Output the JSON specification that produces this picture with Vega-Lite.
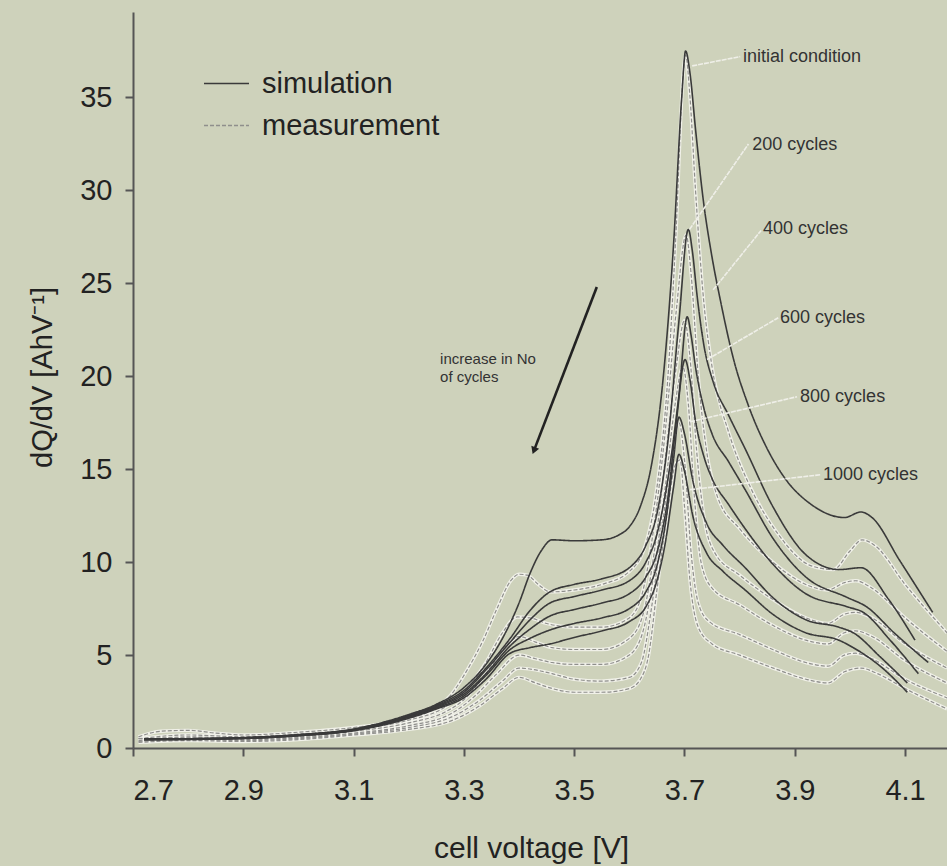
{
  "$schema": "https://vega.github.io/schema/vega-lite/v6.json",
  "width": 814,
  "height": 736,
  "autosize": {"type": "none"},
  "padding": {"left": 133, "top": 12, "right": 0, "bottom": 118},
  "background": "#ced2bb",
  "config": {
    "font": "Liberation Sans",
    "view": {"stroke": null},
    "text": {"font": "Liberation Sans"}
  },
  "datasets": {
    "curves": [
      {"series":"initial","kind":"simulation","voltage":2.72,"dqdv":0.5},
      {"series":"initial","kind":"simulation","voltage":2.8,"dqdv":0.5},
      {"series":"initial","kind":"simulation","voltage":2.9,"dqdv":0.56},
      {"series":"initial","kind":"simulation","voltage":3.0,"dqdv":0.72},
      {"series":"initial","kind":"simulation","voltage":3.1,"dqdv":1.02},
      {"series":"initial","kind":"simulation","voltage":3.2,"dqdv":1.8},
      {"series":"initial","kind":"simulation","voltage":3.25,"dqdv":2.35},
      {"series":"initial","kind":"simulation","voltage":3.3,"dqdv":3.25},
      {"series":"initial","kind":"simulation","voltage":3.34,"dqdv":4.5},
      {"series":"initial","kind":"simulation","voltage":3.37,"dqdv":5.9},
      {"series":"initial","kind":"simulation","voltage":3.4,"dqdv":7.8},
      {"series":"initial","kind":"simulation","voltage":3.42,"dqdv":9.4},
      {"series":"initial","kind":"simulation","voltage":3.44,"dqdv":10.6},
      {"series":"initial","kind":"simulation","voltage":3.46,"dqdv":11.2},
      {"series":"initial","kind":"simulation","voltage":3.5,"dqdv":11.15},
      {"series":"initial","kind":"simulation","voltage":3.55,"dqdv":11.2},
      {"series":"initial","kind":"simulation","voltage":3.58,"dqdv":11.45},
      {"series":"initial","kind":"simulation","voltage":3.6,"dqdv":11.9},
      {"series":"initial","kind":"simulation","voltage":3.62,"dqdv":13.0},
      {"series":"initial","kind":"simulation","voltage":3.64,"dqdv":15.2},
      {"series":"initial","kind":"simulation","voltage":3.66,"dqdv":19.5},
      {"series":"initial","kind":"simulation","voltage":3.68,"dqdv":27},
      {"series":"initial","kind":"simulation","voltage":3.695,"dqdv":35},
      {"series":"initial","kind":"simulation","voltage":3.702,"dqdv":37.5},
      {"series":"initial","kind":"simulation","voltage":3.71,"dqdv":36.3},
      {"series":"initial","kind":"simulation","voltage":3.72,"dqdv":33.3},
      {"series":"initial","kind":"simulation","voltage":3.734,"dqdv":29.5},
      {"series":"initial","kind":"simulation","voltage":3.75,"dqdv":26.4},
      {"series":"initial","kind":"simulation","voltage":3.765,"dqdv":24.1},
      {"series":"initial","kind":"simulation","voltage":3.79,"dqdv":20.8},
      {"series":"initial","kind":"simulation","voltage":3.815,"dqdv":18.5},
      {"series":"initial","kind":"simulation","voltage":3.85,"dqdv":16.1},
      {"series":"initial","kind":"simulation","voltage":3.88,"dqdv":14.6},
      {"series":"initial","kind":"simulation","voltage":3.93,"dqdv":13.1},
      {"series":"initial","kind":"simulation","voltage":3.99,"dqdv":12.4},
      {"series":"initial","kind":"simulation","voltage":4.02,"dqdv":12.7},
      {"series":"initial","kind":"simulation","voltage":4.04,"dqdv":12.4},
      {"series":"initial","kind":"simulation","voltage":4.09,"dqdv":10.1},
      {"series":"initial","kind":"simulation","voltage":4.15,"dqdv":7.3},

      {"series":"c200","kind":"simulation","voltage":2.72,"dqdv":0.48},
      {"series":"c200","kind":"simulation","voltage":2.9,"dqdv":0.55},
      {"series":"c200","kind":"simulation","voltage":3.0,"dqdv":0.7},
      {"series":"c200","kind":"simulation","voltage":3.1,"dqdv":1.0},
      {"series":"c200","kind":"simulation","voltage":3.2,"dqdv":1.75},
      {"series":"c200","kind":"simulation","voltage":3.25,"dqdv":2.3},
      {"series":"c200","kind":"simulation","voltage":3.3,"dqdv":3.1},
      {"series":"c200","kind":"simulation","voltage":3.34,"dqdv":4.3},
      {"series":"c200","kind":"simulation","voltage":3.384,"dqdv":5.9},
      {"series":"c200","kind":"simulation","voltage":3.42,"dqdv":7.4},
      {"series":"c200","kind":"simulation","voltage":3.456,"dqdv":8.4},
      {"series":"c200","kind":"simulation","voltage":3.5,"dqdv":8.8},
      {"series":"c200","kind":"simulation","voltage":3.55,"dqdv":9.1},
      {"series":"c200","kind":"simulation","voltage":3.6,"dqdv":9.7},
      {"series":"c200","kind":"simulation","voltage":3.63,"dqdv":10.9},
      {"series":"c200","kind":"simulation","voltage":3.65,"dqdv":12.6},
      {"series":"c200","kind":"simulation","voltage":3.67,"dqdv":16.5},
      {"series":"c200","kind":"simulation","voltage":3.69,"dqdv":23},
      {"series":"c200","kind":"simulation","voltage":3.707,"dqdv":27.9},
      {"series":"c200","kind":"simulation","voltage":3.714,"dqdv":26.8},
      {"series":"c200","kind":"simulation","voltage":3.723,"dqdv":24.3},
      {"series":"c200","kind":"simulation","voltage":3.735,"dqdv":21.7},
      {"series":"c200","kind":"simulation","voltage":3.752,"dqdv":19.7},
      {"series":"c200","kind":"simulation","voltage":3.78,"dqdv":17.9},
      {"series":"c200","kind":"simulation","voltage":3.81,"dqdv":16.1},
      {"series":"c200","kind":"simulation","voltage":3.86,"dqdv":13.0},
      {"series":"c200","kind":"simulation","voltage":3.92,"dqdv":10.4},
      {"series":"c200","kind":"simulation","voltage":3.98,"dqdv":9.6},
      {"series":"c200","kind":"simulation","voltage":4.02,"dqdv":9.7},
      {"series":"c200","kind":"simulation","voltage":4.07,"dqdv":8.0},
      {"series":"c200","kind":"simulation","voltage":4.118,"dqdv":5.8},

      {"series":"c400","kind":"simulation","voltage":2.72,"dqdv":0.47},
      {"series":"c400","kind":"simulation","voltage":2.9,"dqdv":0.54},
      {"series":"c400","kind":"simulation","voltage":3.0,"dqdv":0.69},
      {"series":"c400","kind":"simulation","voltage":3.1,"dqdv":0.98},
      {"series":"c400","kind":"simulation","voltage":3.2,"dqdv":1.72},
      {"series":"c400","kind":"simulation","voltage":3.25,"dqdv":2.25},
      {"series":"c400","kind":"simulation","voltage":3.3,"dqdv":3.0},
      {"series":"c400","kind":"simulation","voltage":3.34,"dqdv":4.2},
      {"series":"c400","kind":"simulation","voltage":3.384,"dqdv":5.7},
      {"series":"c400","kind":"simulation","voltage":3.42,"dqdv":6.9},
      {"series":"c400","kind":"simulation","voltage":3.456,"dqdv":7.8},
      {"series":"c400","kind":"simulation","voltage":3.5,"dqdv":8.15},
      {"series":"c400","kind":"simulation","voltage":3.55,"dqdv":8.5},
      {"series":"c400","kind":"simulation","voltage":3.6,"dqdv":9.0},
      {"series":"c400","kind":"simulation","voltage":3.63,"dqdv":10.0},
      {"series":"c400","kind":"simulation","voltage":3.65,"dqdv":11.5},
      {"series":"c400","kind":"simulation","voltage":3.67,"dqdv":14.5},
      {"series":"c400","kind":"simulation","voltage":3.69,"dqdv":19},
      {"series":"c400","kind":"simulation","voltage":3.705,"dqdv":23.2},
      {"series":"c400","kind":"simulation","voltage":3.712,"dqdv":22.2},
      {"series":"c400","kind":"simulation","voltage":3.72,"dqdv":20.5},
      {"series":"c400","kind":"simulation","voltage":3.735,"dqdv":18.3},
      {"series":"c400","kind":"simulation","voltage":3.75,"dqdv":16.9},
      {"series":"c400","kind":"simulation","voltage":3.78,"dqdv":15.4},
      {"series":"c400","kind":"simulation","voltage":3.81,"dqdv":13.9},
      {"series":"c400","kind":"simulation","voltage":3.86,"dqdv":11.3},
      {"series":"c400","kind":"simulation","voltage":3.92,"dqdv":9.2},
      {"series":"c400","kind":"simulation","voltage":3.995,"dqdv":8.1},
      {"series":"c400","kind":"simulation","voltage":4.03,"dqdv":7.6},
      {"series":"c400","kind":"simulation","voltage":4.08,"dqdv":6.2},
      {"series":"c400","kind":"simulation","voltage":4.142,"dqdv":4.6},

      {"series":"c600","kind":"simulation","voltage":2.72,"dqdv":0.46},
      {"series":"c600","kind":"simulation","voltage":2.9,"dqdv":0.53},
      {"series":"c600","kind":"simulation","voltage":3.0,"dqdv":0.68},
      {"series":"c600","kind":"simulation","voltage":3.1,"dqdv":0.96},
      {"series":"c600","kind":"simulation","voltage":3.2,"dqdv":1.68},
      {"series":"c600","kind":"simulation","voltage":3.25,"dqdv":2.2},
      {"series":"c600","kind":"simulation","voltage":3.3,"dqdv":2.9},
      {"series":"c600","kind":"simulation","voltage":3.34,"dqdv":4.0},
      {"series":"c600","kind":"simulation","voltage":3.384,"dqdv":5.5},
      {"series":"c600","kind":"simulation","voltage":3.42,"dqdv":6.4},
      {"series":"c600","kind":"simulation","voltage":3.456,"dqdv":7.1},
      {"series":"c600","kind":"simulation","voltage":3.5,"dqdv":7.45},
      {"series":"c600","kind":"simulation","voltage":3.55,"dqdv":7.8},
      {"series":"c600","kind":"simulation","voltage":3.6,"dqdv":8.3},
      {"series":"c600","kind":"simulation","voltage":3.63,"dqdv":9.2},
      {"series":"c600","kind":"simulation","voltage":3.65,"dqdv":10.5},
      {"series":"c600","kind":"simulation","voltage":3.67,"dqdv":13.5},
      {"series":"c600","kind":"simulation","voltage":3.685,"dqdv":17.5},
      {"series":"c600","kind":"simulation","voltage":3.701,"dqdv":20.9},
      {"series":"c600","kind":"simulation","voltage":3.71,"dqdv":19.8},
      {"series":"c600","kind":"simulation","voltage":3.72,"dqdv":17.6},
      {"series":"c600","kind":"simulation","voltage":3.735,"dqdv":15.7},
      {"series":"c600","kind":"simulation","voltage":3.75,"dqdv":14.5},
      {"series":"c600","kind":"simulation","voltage":3.78,"dqdv":13.1},
      {"series":"c600","kind":"simulation","voltage":3.81,"dqdv":11.8},
      {"series":"c600","kind":"simulation","voltage":3.86,"dqdv":9.9},
      {"series":"c600","kind":"simulation","voltage":3.92,"dqdv":8.3},
      {"series":"c600","kind":"simulation","voltage":3.995,"dqdv":7.6},
      {"series":"c600","kind":"simulation","voltage":4.024,"dqdv":7.3},
      {"series":"c600","kind":"simulation","voltage":4.073,"dqdv":5.8},
      {"series":"c600","kind":"simulation","voltage":4.124,"dqdv":4.0},

      {"series":"c800","kind":"simulation","voltage":2.72,"dqdv":0.45},
      {"series":"c800","kind":"simulation","voltage":2.9,"dqdv":0.52},
      {"series":"c800","kind":"simulation","voltage":3.0,"dqdv":0.67},
      {"series":"c800","kind":"simulation","voltage":3.1,"dqdv":0.95},
      {"series":"c800","kind":"simulation","voltage":3.2,"dqdv":1.65},
      {"series":"c800","kind":"simulation","voltage":3.25,"dqdv":2.15},
      {"series":"c800","kind":"simulation","voltage":3.3,"dqdv":2.8},
      {"series":"c800","kind":"simulation","voltage":3.34,"dqdv":3.9},
      {"series":"c800","kind":"simulation","voltage":3.384,"dqdv":5.3},
      {"series":"c800","kind":"simulation","voltage":3.42,"dqdv":5.9},
      {"series":"c800","kind":"simulation","voltage":3.456,"dqdv":6.35},
      {"series":"c800","kind":"simulation","voltage":3.5,"dqdv":6.7},
      {"series":"c800","kind":"simulation","voltage":3.55,"dqdv":7.0},
      {"series":"c800","kind":"simulation","voltage":3.6,"dqdv":7.5},
      {"series":"c800","kind":"simulation","voltage":3.63,"dqdv":8.4},
      {"series":"c800","kind":"simulation","voltage":3.65,"dqdv":9.8},
      {"series":"c800","kind":"simulation","voltage":3.665,"dqdv":12},
      {"series":"c800","kind":"simulation","voltage":3.68,"dqdv":15.5},
      {"series":"c800","kind":"simulation","voltage":3.69,"dqdv":17.8},
      {"series":"c800","kind":"simulation","voltage":3.7,"dqdv":16.9},
      {"series":"c800","kind":"simulation","voltage":3.715,"dqdv":14.4},
      {"series":"c800","kind":"simulation","voltage":3.74,"dqdv":12.1},
      {"series":"c800","kind":"simulation","voltage":3.77,"dqdv":10.9},
      {"series":"c800","kind":"simulation","voltage":3.81,"dqdv":9.7},
      {"series":"c800","kind":"simulation","voltage":3.86,"dqdv":8.1},
      {"series":"c800","kind":"simulation","voltage":3.92,"dqdv":6.9},
      {"series":"c800","kind":"simulation","voltage":3.98,"dqdv":6.5},
      {"series":"c800","kind":"simulation","voltage":4.006,"dqdv":6.2},
      {"series":"c800","kind":"simulation","voltage":4.055,"dqdv":4.9},
      {"series":"c800","kind":"simulation","voltage":4.104,"dqdv":3.5},

      {"series":"c1000","kind":"simulation","voltage":2.72,"dqdv":0.44},
      {"series":"c1000","kind":"simulation","voltage":2.9,"dqdv":0.51},
      {"series":"c1000","kind":"simulation","voltage":3.0,"dqdv":0.66},
      {"series":"c1000","kind":"simulation","voltage":3.1,"dqdv":0.93},
      {"series":"c1000","kind":"simulation","voltage":3.2,"dqdv":1.6},
      {"series":"c1000","kind":"simulation","voltage":3.25,"dqdv":2.1},
      {"series":"c1000","kind":"simulation","voltage":3.3,"dqdv":2.7},
      {"series":"c1000","kind":"simulation","voltage":3.34,"dqdv":3.7},
      {"series":"c1000","kind":"simulation","voltage":3.384,"dqdv":5.1},
      {"series":"c1000","kind":"simulation","voltage":3.42,"dqdv":5.4},
      {"series":"c1000","kind":"simulation","voltage":3.456,"dqdv":5.6},
      {"series":"c1000","kind":"simulation","voltage":3.5,"dqdv":5.95},
      {"series":"c1000","kind":"simulation","voltage":3.55,"dqdv":6.3},
      {"series":"c1000","kind":"simulation","voltage":3.6,"dqdv":6.8},
      {"series":"c1000","kind":"simulation","voltage":3.63,"dqdv":7.6},
      {"series":"c1000","kind":"simulation","voltage":3.65,"dqdv":9.0},
      {"series":"c1000","kind":"simulation","voltage":3.665,"dqdv":11},
      {"series":"c1000","kind":"simulation","voltage":3.68,"dqdv":14},
      {"series":"c1000","kind":"simulation","voltage":3.69,"dqdv":15.8},
      {"series":"c1000","kind":"simulation","voltage":3.7,"dqdv":14.9},
      {"series":"c1000","kind":"simulation","voltage":3.715,"dqdv":12.5},
      {"series":"c1000","kind":"simulation","voltage":3.74,"dqdv":10.5},
      {"series":"c1000","kind":"simulation","voltage":3.77,"dqdv":9.5},
      {"series":"c1000","kind":"simulation","voltage":3.81,"dqdv":8.5},
      {"series":"c1000","kind":"simulation","voltage":3.86,"dqdv":7.2},
      {"series":"c1000","kind":"simulation","voltage":3.92,"dqdv":6.2},
      {"series":"c1000","kind":"simulation","voltage":3.98,"dqdv":5.8},
      {"series":"c1000","kind":"simulation","voltage":4.006,"dqdv":5.4},
      {"series":"c1000","kind":"simulation","voltage":4.055,"dqdv":4.4},
      {"series":"c1000","kind":"simulation","voltage":4.104,"dqdv":3.0},

      {"series":"m-initial","kind":"measurement","voltage":2.71,"dqdv":0.6},
      {"series":"m-initial","kind":"measurement","voltage":2.75,"dqdv":0.9},
      {"series":"m-initial","kind":"measurement","voltage":2.8,"dqdv":0.95},
      {"series":"m-initial","kind":"measurement","voltage":2.85,"dqdv":0.8},
      {"series":"m-initial","kind":"measurement","voltage":2.9,"dqdv":0.7},
      {"series":"m-initial","kind":"measurement","voltage":3.0,"dqdv":0.85},
      {"series":"m-initial","kind":"measurement","voltage":3.1,"dqdv":1.1},
      {"series":"m-initial","kind":"measurement","voltage":3.2,"dqdv":1.6},
      {"series":"m-initial","kind":"measurement","voltage":3.24,"dqdv":2.0},
      {"series":"m-initial","kind":"measurement","voltage":3.275,"dqdv":2.8},
      {"series":"m-initial","kind":"measurement","voltage":3.306,"dqdv":4.2},
      {"series":"m-initial","kind":"measurement","voltage":3.335,"dqdv":5.8},
      {"series":"m-initial","kind":"measurement","voltage":3.36,"dqdv":7.5},
      {"series":"m-initial","kind":"measurement","voltage":3.385,"dqdv":9.0},
      {"series":"m-initial","kind":"measurement","voltage":3.4,"dqdv":9.35},
      {"series":"m-initial","kind":"measurement","voltage":3.415,"dqdv":9.3},
      {"series":"m-initial","kind":"measurement","voltage":3.435,"dqdv":8.8},
      {"series":"m-initial","kind":"measurement","voltage":3.456,"dqdv":8.4},
      {"series":"m-initial","kind":"measurement","voltage":3.5,"dqdv":8.5},
      {"series":"m-initial","kind":"measurement","voltage":3.55,"dqdv":8.8},
      {"series":"m-initial","kind":"measurement","voltage":3.6,"dqdv":9.5},
      {"series":"m-initial","kind":"measurement","voltage":3.63,"dqdv":11},
      {"series":"m-initial","kind":"measurement","voltage":3.65,"dqdv":14},
      {"series":"m-initial","kind":"measurement","voltage":3.67,"dqdv":20},
      {"series":"m-initial","kind":"measurement","voltage":3.685,"dqdv":28},
      {"series":"m-initial","kind":"measurement","voltage":3.697,"dqdv":36},
      {"series":"m-initial","kind":"measurement","voltage":3.702,"dqdv":37.3},
      {"series":"m-initial","kind":"measurement","voltage":3.71,"dqdv":35},
      {"series":"m-initial","kind":"measurement","voltage":3.72,"dqdv":30},
      {"series":"m-initial","kind":"measurement","voltage":3.735,"dqdv":24},
      {"series":"m-initial","kind":"measurement","voltage":3.75,"dqdv":20.5},
      {"series":"m-initial","kind":"measurement","voltage":3.78,"dqdv":17},
      {"series":"m-initial","kind":"measurement","voltage":3.82,"dqdv":14},
      {"series":"m-initial","kind":"measurement","voltage":3.87,"dqdv":11.5},
      {"series":"m-initial","kind":"measurement","voltage":3.93,"dqdv":9.8},
      {"series":"m-initial","kind":"measurement","voltage":3.97,"dqdv":9.6},
      {"series":"m-initial","kind":"measurement","voltage":4.0,"dqdv":10.6},
      {"series":"m-initial","kind":"measurement","voltage":4.022,"dqdv":11.2},
      {"series":"m-initial","kind":"measurement","voltage":4.045,"dqdv":10.9},
      {"series":"m-initial","kind":"measurement","voltage":4.1,"dqdv":8.8},
      {"series":"m-initial","kind":"measurement","voltage":4.176,"dqdv":6.2},

      {"series":"m200","kind":"measurement","voltage":2.71,"dqdv":0.5},
      {"series":"m200","kind":"measurement","voltage":2.8,"dqdv":0.7},
      {"series":"m200","kind":"measurement","voltage":2.9,"dqdv":0.6},
      {"series":"m200","kind":"measurement","voltage":3.0,"dqdv":0.75},
      {"series":"m200","kind":"measurement","voltage":3.1,"dqdv":1.0},
      {"series":"m200","kind":"measurement","voltage":3.2,"dqdv":1.5},
      {"series":"m200","kind":"measurement","voltage":3.26,"dqdv":2.1},
      {"series":"m200","kind":"measurement","voltage":3.3,"dqdv":3.0},
      {"series":"m200","kind":"measurement","voltage":3.34,"dqdv":4.6},
      {"series":"m200","kind":"measurement","voltage":3.37,"dqdv":6.2},
      {"series":"m200","kind":"measurement","voltage":3.397,"dqdv":7.05},
      {"series":"m200","kind":"measurement","voltage":3.42,"dqdv":7.0},
      {"series":"m200","kind":"measurement","voltage":3.45,"dqdv":6.7},
      {"series":"m200","kind":"measurement","voltage":3.5,"dqdv":6.5},
      {"series":"m200","kind":"measurement","voltage":3.55,"dqdv":6.5},
      {"series":"m200","kind":"measurement","voltage":3.6,"dqdv":7.0},
      {"series":"m200","kind":"measurement","voltage":3.625,"dqdv":8.5},
      {"series":"m200","kind":"measurement","voltage":3.645,"dqdv":12},
      {"series":"m200","kind":"measurement","voltage":3.665,"dqdv":17},
      {"series":"m200","kind":"measurement","voltage":3.685,"dqdv":23.5},
      {"series":"m200","kind":"measurement","voltage":3.703,"dqdv":27.6},
      {"series":"m200","kind":"measurement","voltage":3.712,"dqdv":25.5},
      {"series":"m200","kind":"measurement","voltage":3.725,"dqdv":20},
      {"series":"m200","kind":"measurement","voltage":3.74,"dqdv":16},
      {"series":"m200","kind":"measurement","voltage":3.76,"dqdv":13.5},
      {"series":"m200","kind":"measurement","voltage":3.8,"dqdv":11.8},
      {"series":"m200","kind":"measurement","voltage":3.86,"dqdv":10.0},
      {"series":"m200","kind":"measurement","voltage":3.92,"dqdv":8.8},
      {"series":"m200","kind":"measurement","voltage":3.96,"dqdv":8.5},
      {"series":"m200","kind":"measurement","voltage":3.99,"dqdv":8.9},
      {"series":"m200","kind":"measurement","voltage":4.01,"dqdv":9.0},
      {"series":"m200","kind":"measurement","voltage":4.04,"dqdv":8.6},
      {"series":"m200","kind":"measurement","voltage":4.1,"dqdv":7.0},
      {"series":"m200","kind":"measurement","voltage":4.176,"dqdv":5.2},

      {"series":"m400","kind":"measurement","voltage":2.71,"dqdv":0.4},
      {"series":"m400","kind":"measurement","voltage":2.8,"dqdv":0.6},
      {"series":"m400","kind":"measurement","voltage":2.9,"dqdv":0.5},
      {"series":"m400","kind":"measurement","voltage":3.0,"dqdv":0.6},
      {"series":"m400","kind":"measurement","voltage":3.1,"dqdv":0.9},
      {"series":"m400","kind":"measurement","voltage":3.2,"dqdv":1.35},
      {"series":"m400","kind":"measurement","voltage":3.27,"dqdv":2.0},
      {"series":"m400","kind":"measurement","voltage":3.3,"dqdv":2.6},
      {"series":"m400","kind":"measurement","voltage":3.34,"dqdv":4.0},
      {"series":"m400","kind":"measurement","voltage":3.38,"dqdv":5.6},
      {"series":"m400","kind":"measurement","voltage":3.4,"dqdv":6.0},
      {"series":"m400","kind":"measurement","voltage":3.43,"dqdv":5.7},
      {"series":"m400","kind":"measurement","voltage":3.46,"dqdv":5.4},
      {"series":"m400","kind":"measurement","voltage":3.5,"dqdv":5.3},
      {"series":"m400","kind":"measurement","voltage":3.55,"dqdv":5.3},
      {"series":"m400","kind":"measurement","voltage":3.6,"dqdv":5.9},
      {"series":"m400","kind":"measurement","voltage":3.625,"dqdv":7.2},
      {"series":"m400","kind":"measurement","voltage":3.645,"dqdv":10.5},
      {"series":"m400","kind":"measurement","voltage":3.665,"dqdv":15.5},
      {"series":"m400","kind":"measurement","voltage":3.685,"dqdv":20.5},
      {"series":"m400","kind":"measurement","voltage":3.7,"dqdv":23.0},
      {"series":"m400","kind":"measurement","voltage":3.71,"dqdv":21},
      {"series":"m400","kind":"measurement","voltage":3.722,"dqdv":16},
      {"series":"m400","kind":"measurement","voltage":3.735,"dqdv":12.5},
      {"series":"m400","kind":"measurement","voltage":3.755,"dqdv":10.5},
      {"series":"m400","kind":"measurement","voltage":3.8,"dqdv":9.3},
      {"series":"m400","kind":"measurement","voltage":3.86,"dqdv":8.0},
      {"series":"m400","kind":"measurement","voltage":3.92,"dqdv":7.0},
      {"series":"m400","kind":"measurement","voltage":3.96,"dqdv":6.7},
      {"series":"m400","kind":"measurement","voltage":3.99,"dqdv":7.2},
      {"series":"m400","kind":"measurement","voltage":4.01,"dqdv":7.3},
      {"series":"m400","kind":"measurement","voltage":4.04,"dqdv":7.0},
      {"series":"m400","kind":"measurement","voltage":4.1,"dqdv":5.6},
      {"series":"m400","kind":"measurement","voltage":4.176,"dqdv":4.3},

      {"series":"m600","kind":"measurement","voltage":2.71,"dqdv":0.5},
      {"series":"m600","kind":"measurement","voltage":2.8,"dqdv":0.55},
      {"series":"m600","kind":"measurement","voltage":2.9,"dqdv":0.45},
      {"series":"m600","kind":"measurement","voltage":3.0,"dqdv":0.55},
      {"series":"m600","kind":"measurement","voltage":3.1,"dqdv":0.8},
      {"series":"m600","kind":"measurement","voltage":3.2,"dqdv":1.2},
      {"series":"m600","kind":"measurement","voltage":3.28,"dqdv":1.9},
      {"series":"m600","kind":"measurement","voltage":3.32,"dqdv":2.8},
      {"series":"m600","kind":"measurement","voltage":3.36,"dqdv":4.0},
      {"series":"m600","kind":"measurement","voltage":3.4,"dqdv":5.0},
      {"series":"m600","kind":"measurement","voltage":3.43,"dqdv":4.8},
      {"series":"m600","kind":"measurement","voltage":3.46,"dqdv":4.6},
      {"series":"m600","kind":"measurement","voltage":3.5,"dqdv":4.5},
      {"series":"m600","kind":"measurement","voltage":3.55,"dqdv":4.5},
      {"series":"m600","kind":"measurement","voltage":3.6,"dqdv":5.0},
      {"series":"m600","kind":"measurement","voltage":3.625,"dqdv":6.3},
      {"series":"m600","kind":"measurement","voltage":3.645,"dqdv":9.5},
      {"series":"m600","kind":"measurement","voltage":3.665,"dqdv":14},
      {"series":"m600","kind":"measurement","voltage":3.683,"dqdv":18.5},
      {"series":"m600","kind":"measurement","voltage":3.697,"dqdv":20.5},
      {"series":"m600","kind":"measurement","voltage":3.707,"dqdv":18.5},
      {"series":"m600","kind":"measurement","voltage":3.718,"dqdv":13.5},
      {"series":"m600","kind":"measurement","voltage":3.73,"dqdv":10.0},
      {"series":"m600","kind":"measurement","voltage":3.75,"dqdv":8.6},
      {"series":"m600","kind":"measurement","voltage":3.8,"dqdv":7.7},
      {"series":"m600","kind":"measurement","voltage":3.86,"dqdv":6.6},
      {"series":"m600","kind":"measurement","voltage":3.92,"dqdv":5.8},
      {"series":"m600","kind":"measurement","voltage":3.96,"dqdv":5.6},
      {"series":"m600","kind":"measurement","voltage":3.99,"dqdv":6.2},
      {"series":"m600","kind":"measurement","voltage":4.01,"dqdv":6.3},
      {"series":"m600","kind":"measurement","voltage":4.04,"dqdv":6.0},
      {"series":"m600","kind":"measurement","voltage":4.1,"dqdv":4.7},
      {"series":"m600","kind":"measurement","voltage":4.176,"dqdv":3.5},

      {"series":"m800","kind":"measurement","voltage":2.71,"dqdv":0.35},
      {"series":"m800","kind":"measurement","voltage":2.8,"dqdv":0.45},
      {"series":"m800","kind":"measurement","voltage":2.9,"dqdv":0.4},
      {"series":"m800","kind":"measurement","voltage":3.0,"dqdv":0.5},
      {"series":"m800","kind":"measurement","voltage":3.1,"dqdv":0.75},
      {"series":"m800","kind":"measurement","voltage":3.2,"dqdv":1.1},
      {"series":"m800","kind":"measurement","voltage":3.28,"dqdv":1.7},
      {"series":"m800","kind":"measurement","voltage":3.33,"dqdv":2.6},
      {"series":"m800","kind":"measurement","voltage":3.37,"dqdv":3.6},
      {"series":"m800","kind":"measurement","voltage":3.4,"dqdv":4.3},
      {"series":"m800","kind":"measurement","voltage":3.43,"dqdv":4.2},
      {"series":"m800","kind":"measurement","voltage":3.46,"dqdv":4.0},
      {"series":"m800","kind":"measurement","voltage":3.5,"dqdv":3.7},
      {"series":"m800","kind":"measurement","voltage":3.55,"dqdv":3.6},
      {"series":"m800","kind":"measurement","voltage":3.6,"dqdv":3.8},
      {"series":"m800","kind":"measurement","voltage":3.622,"dqdv":4.6},
      {"series":"m800","kind":"measurement","voltage":3.64,"dqdv":7.5},
      {"series":"m800","kind":"measurement","voltage":3.66,"dqdv":12},
      {"series":"m800","kind":"measurement","voltage":3.678,"dqdv":16},
      {"series":"m800","kind":"measurement","voltage":3.69,"dqdv":17.5},
      {"series":"m800","kind":"measurement","voltage":3.7,"dqdv":15.5},
      {"series":"m800","kind":"measurement","voltage":3.712,"dqdv":10.5},
      {"series":"m800","kind":"measurement","voltage":3.725,"dqdv":7.8},
      {"series":"m800","kind":"measurement","voltage":3.745,"dqdv":6.8},
      {"series":"m800","kind":"measurement","voltage":3.8,"dqdv":6.1},
      {"series":"m800","kind":"measurement","voltage":3.86,"dqdv":5.3},
      {"series":"m800","kind":"measurement","voltage":3.92,"dqdv":4.6},
      {"series":"m800","kind":"measurement","voltage":3.96,"dqdv":4.4},
      {"series":"m800","kind":"measurement","voltage":3.99,"dqdv":5.0},
      {"series":"m800","kind":"measurement","voltage":4.01,"dqdv":5.1},
      {"series":"m800","kind":"measurement","voltage":4.04,"dqdv":4.8},
      {"series":"m800","kind":"measurement","voltage":4.1,"dqdv":3.7},
      {"series":"m800","kind":"measurement","voltage":4.176,"dqdv":2.7},

      {"series":"m1000","kind":"measurement","voltage":2.71,"dqdv":0.3},
      {"series":"m1000","kind":"measurement","voltage":2.8,"dqdv":0.4},
      {"series":"m1000","kind":"measurement","voltage":2.9,"dqdv":0.35},
      {"series":"m1000","kind":"measurement","voltage":3.0,"dqdv":0.45},
      {"series":"m1000","kind":"measurement","voltage":3.1,"dqdv":0.7},
      {"series":"m1000","kind":"measurement","voltage":3.2,"dqdv":1.0},
      {"series":"m1000","kind":"measurement","voltage":3.28,"dqdv":1.5},
      {"series":"m1000","kind":"measurement","voltage":3.33,"dqdv":2.3},
      {"series":"m1000","kind":"measurement","voltage":3.37,"dqdv":3.2},
      {"series":"m1000","kind":"measurement","voltage":3.4,"dqdv":3.8},
      {"series":"m1000","kind":"measurement","voltage":3.43,"dqdv":3.5},
      {"series":"m1000","kind":"measurement","voltage":3.46,"dqdv":3.2},
      {"series":"m1000","kind":"measurement","voltage":3.5,"dqdv":3.0},
      {"series":"m1000","kind":"measurement","voltage":3.55,"dqdv":3.0},
      {"series":"m1000","kind":"measurement","voltage":3.6,"dqdv":3.2},
      {"series":"m1000","kind":"measurement","voltage":3.62,"dqdv":3.7},
      {"series":"m1000","kind":"measurement","voltage":3.635,"dqdv":5.0},
      {"series":"m1000","kind":"measurement","voltage":3.65,"dqdv":8.5},
      {"series":"m1000","kind":"measurement","voltage":3.668,"dqdv":12.5},
      {"series":"m1000","kind":"measurement","voltage":3.683,"dqdv":15.2},
      {"series":"m1000","kind":"measurement","voltage":3.692,"dqdv":15.5},
      {"series":"m1000","kind":"measurement","voltage":3.7,"dqdv":13},
      {"series":"m1000","kind":"measurement","voltage":3.71,"dqdv":9},
      {"series":"m1000","kind":"measurement","voltage":3.725,"dqdv":6.5},
      {"series":"m1000","kind":"measurement","voltage":3.75,"dqdv":5.6},
      {"series":"m1000","kind":"measurement","voltage":3.8,"dqdv":5.0},
      {"series":"m1000","kind":"measurement","voltage":3.87,"dqdv":4.2},
      {"series":"m1000","kind":"measurement","voltage":3.92,"dqdv":3.7},
      {"series":"m1000","kind":"measurement","voltage":3.96,"dqdv":3.5},
      {"series":"m1000","kind":"measurement","voltage":3.99,"dqdv":4.1},
      {"series":"m1000","kind":"measurement","voltage":4.02,"dqdv":4.3},
      {"series":"m1000","kind":"measurement","voltage":4.05,"dqdv":4.0},
      {"series":"m1000","kind":"measurement","voltage":4.1,"dqdv":3.2},
      {"series":"m1000","kind":"measurement","voltage":4.176,"dqdv":2.1}
    ],
    "notes": [
      {"label":"initial condition","voltage":3.806,"dqdv":37.2,"from_v":3.714,"from_q":36.7,"to_v":3.801,"to_q":37.2},
      {"label":"200 cycles","voltage":3.823,"dqdv":32.45,"from_v":3.709,"from_q":27.9,"to_v":3.816,"to_q":32.5},
      {"label":"400 cycles","voltage":3.8425,"dqdv":27.9,"from_v":3.752,"from_q":24.65,"to_v":3.839,"to_q":27.85},
      {"label":"600 cycles","voltage":3.873,"dqdv":23.15,"from_v":3.741,"from_q":20.9,"to_v":3.87,"to_q":23.15},
      {"label":"800 cycles","voltage":3.9096,"dqdv":18.9,"from_v":3.71,"from_q":17.55,"to_v":3.904,"to_q":18.9},
      {"label":"1000 cycles","voltage":3.951,"dqdv":14.7,"from_v":3.71,"from_q":13.9,"to_v":3.946,"to_q":14.7}
    ],
    "trend": [
      {"label":"increase in No\nof cycles","voltage":3.2568,"dqdv":21.3,"tail_v":3.541,"tail_q":24.8,"head_v":3.427,"head_q":16.0}
    ]
  },
  "encoding": {
    "x": {
      "field": "voltage", "type": "quantitative",
      "scale": {"domain": [2.7, 4.176], "nice": false, "zero": false},
      "axis": {
        "values": [2.7, 2.9, 3.1, 3.3, 3.5, 3.7, 3.9, 4.1],
        "format": ".1f",
        "grid": false,
        "title": "cell voltage [V]",
        "titleFontSize": 30, "titleFontWeight": "normal", "titleColor": "#222222",
        "titleX": 398, "titleY": 100, "titleBaseline": "middle", "titleAlign": "center",
        "labelFontSize": 29, "labelColor": "#222222", "labelPadding": 20,
        "tickSize": 8, "tickWidth": 2, "tickColor": "#555555",
        "domainColor": "#555555", "domainWidth": 2
      }
    },
    "y": {
      "field": "dqdv", "type": "quantitative",
      "scale": {"domain": [0, 39.6], "nice": false, "zero": true},
      "axis": {
        "values": [0, 5, 10, 15, 20, 25, 30, 35],
        "grid": false,
        "title": "dQ/dV [AhV⁻¹]",
        "titleFontSize": 29, "titleFontWeight": "normal", "titleColor": "#222222",
        "titleX": -91, "titleY": 365, "titleAngle": 270, "titleBaseline": "middle", "titleAlign": "center",
        "labelFontSize": 29, "labelColor": "#222222", "labelPadding": 13,
        "tickSize": 8, "tickWidth": 2, "tickColor": "#555555",
        "domainColor": "#555555", "domainWidth": 2
      }
    }
  },
  "layer": [
    {
      "data": {"name": "curves"},
      "transform": [{"filter": "datum.kind === 'measurement'"}],
      "mark": {"type": "line", "interpolate": "monotone", "strokeWidth": 3.4, "color": "#f6f6f0", "opacity": 0.85, "clip": true},
      "encoding": {"detail": {"field": "series"}}
    },
    {
      "data": {"name": "curves"},
      "transform": [{"filter": "datum.kind === 'measurement'"}],
      "mark": {"type": "line", "interpolate": "monotone", "strokeWidth": 1.2, "clip": true},
      "encoding": {
        "detail": {"field": "series"},
        "color": {
          "field": "kind", "type": "nominal",
          "scale": {"domain": ["simulation", "measurement"], "range": ["#3a3a3a", "#8f8f8c"]},
          "legend": {
            "title": null, "orient": "none", "legendX": 70, "legendY": 48,
            "symbolType": "stroke", "symbolSize": 2025, "symbolStrokeWidth": 1.6,
            "labelFontSize": 29, "labelColor": "#222222", "labelOffset": 12, "rowPadding": 3,
            "labelLimit": 400, "labelFont": "Liberation Sans"
          }
        },
        "strokeDash": {
          "field": "kind", "type": "nominal",
          "scale": {"domain": ["simulation", "measurement"], "range": [[1, 0], [4, 2]]},
          "legend": {
            "title": null, "orient": "none", "legendX": 70, "legendY": 48,
            "symbolType": "stroke", "symbolSize": 2025, "symbolStrokeWidth": 1.6,
            "labelFontSize": 29, "labelColor": "#222222", "labelOffset": 12, "rowPadding": 3,
            "labelLimit": 400, "labelFont": "Liberation Sans"
          }
        }
      }
    },
    {
      "data": {"name": "curves"},
      "transform": [{"filter": "datum.kind === 'simulation'"}],
      "mark": {"type": "line", "interpolate": "monotone", "strokeWidth": 1.6, "clip": true},
      "encoding": {
        "detail": {"field": "series"},
        "color": {"field": "kind", "type": "nominal"},
        "strokeDash": {"field": "kind", "type": "nominal"}
      }
    },
    {
      "data": {"name": "notes"},
      "mark": {"type": "rule", "color": "#efefe8", "strokeWidth": 1.6, "strokeDash": [5, 1]},
      "encoding": {
        "x": {"field": "from_v", "type": "quantitative"},
        "y": {"field": "from_q", "type": "quantitative"},
        "x2": {"field": "to_v"},
        "y2": {"field": "to_q"}
      }
    },
    {
      "data": {"name": "notes"},
      "mark": {"type": "text", "align": "left", "baseline": "middle", "fontSize": 18, "color": "#333333"},
      "encoding": {"text": {"field": "label"}}
    },
    {
      "data": {"name": "trend"},
      "mark": {"type": "rule", "color": "#222222", "strokeWidth": 2.6},
      "encoding": {
        "x": {"field": "tail_v", "type": "quantitative"},
        "y": {"field": "tail_q", "type": "quantitative"},
        "x2": {"field": "head_v"},
        "y2": {"field": "head_q"}
      }
    },
    {
      "data": {"name": "trend"},
      "mark": {"type": "point", "shape": "triangle-down", "filled": true, "color": "#222222", "size": 70, "angle": 21, "opacity": 1},
      "encoding": {
        "x": {"field": "head_v", "type": "quantitative"},
        "y": {"field": "head_q", "type": "quantitative"}
      }
    },
    {
      "data": {"name": "trend"},
      "mark": {"type": "text", "align": "left", "baseline": "top", "fontSize": 15, "lineHeight": 18, "lineBreak": "\n", "color": "#333333"},
      "encoding": {"text": {"field": "label"}}
    },
    {
      "data": {"values": [{}]},
      "mark": {"type": "rule", "color": "#6e6e6e", "strokeWidth": 2.5},
      "encoding": {"y": {"datum": 39.6}}
    }
  ]
}
